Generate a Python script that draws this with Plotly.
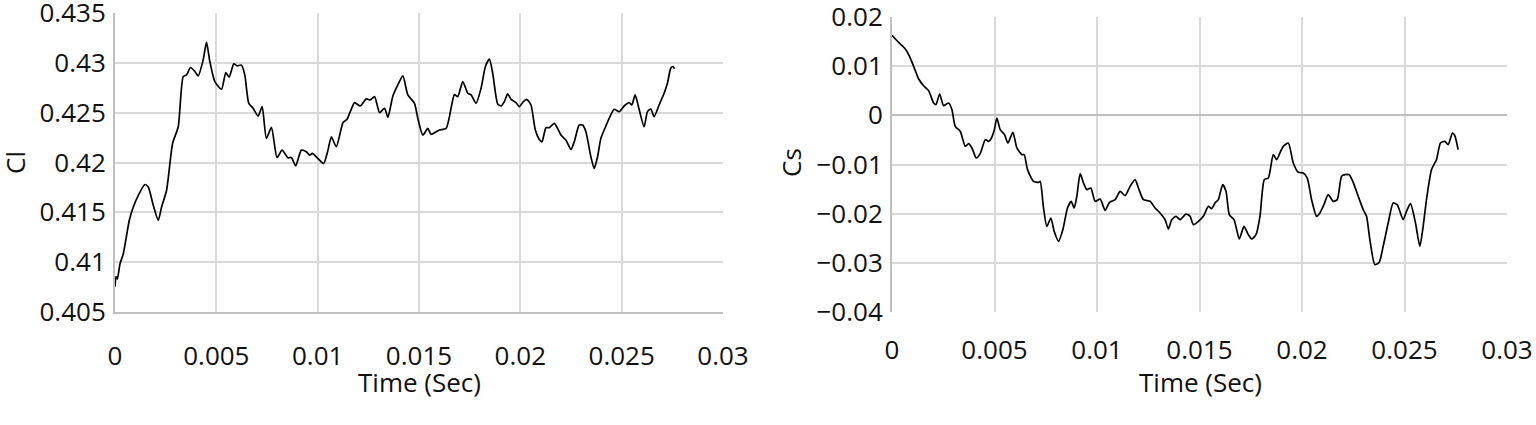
import plotly.graph_objects as go
from plotly.subplots import make_subplots

# ---- data ----
time_cl = [0.0, 0.00005, 0.000115, 0.000246, 0.00041, 0.000706, 0.000903, 0.00115, 0.001478, 0.001642,
           0.001888, 0.002135, 0.002299, 0.002545, 0.002841, 0.00312, 0.003366, 0.00353, 0.003727, 0.003941,
           0.004105, 0.004351, 0.004516, 0.00468, 0.004926, 0.005255, 0.005468, 0.005632, 0.005862, 0.006026,
           0.00624, 0.006404, 0.006601, 0.006814, 0.007061, 0.007258, 0.007471, 0.007718, 0.007997, 0.008243,
           0.008539, 0.008703, 0.008916, 0.009195, 0.009442, 0.009606, 0.009737, 0.010016, 0.010296, 0.010509,
           0.010673, 0.01092, 0.011248, 0.011445, 0.011609, 0.011823, 0.012102, 0.012397, 0.012594, 0.012808,
           0.013054, 0.0133, 0.013465, 0.013711, 0.013957, 0.014204, 0.01445, 0.014778, 0.014943, 0.015189,
           0.015435, 0.0156, 0.015846, 0.01601, 0.016338, 0.016502, 0.016749, 0.016913, 0.017159, 0.017406,
           0.01757, 0.017816, 0.018062, 0.018276, 0.018473, 0.018637, 0.018883, 0.019048, 0.019212, 0.019376,
           0.01954, 0.019787, 0.019951, 0.020148, 0.020312, 0.020525, 0.020739, 0.020936, 0.021067, 0.021264,
           0.021429, 0.021675, 0.021839, 0.022003, 0.02225, 0.022496, 0.02266, 0.022906, 0.023071, 0.023235,
           0.023481, 0.023645, 0.02381, 0.023974, 0.02422, 0.024384, 0.024631, 0.024877, 0.025123, 0.025369,
           0.025501, 0.025665, 0.025829, 0.026108, 0.026273, 0.026437, 0.026601, 0.026847, 0.027094, 0.027258,
           0.027422, 0.027537, 0.027603]
cl = [0.40755, 0.40856, 0.40832, 0.40983, 0.41084, 0.41420, 0.41554, 0.41671, 0.41779, 0.41755,
      0.41571, 0.41420, 0.41554, 0.41722, 0.42191, 0.42359, 0.42862, 0.42879, 0.42953, 0.42913,
      0.42869, 0.43030, 0.43205, 0.43013, 0.42812, 0.42735, 0.42903, 0.42856, 0.42990, 0.42970,
      0.42977, 0.42879, 0.42594, 0.42544, 0.42466, 0.42560, 0.42242, 0.42352, 0.42050, 0.42124,
      0.42047, 0.42050, 0.41966, 0.42124, 0.42107, 0.42074, 0.42091, 0.42040, 0.41990, 0.42124,
      0.42258, 0.42158, 0.42399, 0.42433, 0.42510, 0.42601, 0.42567, 0.42638, 0.42628, 0.42661,
      0.42500, 0.42544, 0.42453, 0.42668, 0.42779, 0.42869, 0.42678, 0.42594, 0.42443, 0.42275,
      0.42342, 0.42282, 0.42309, 0.42326, 0.42342, 0.42460, 0.42681, 0.42661, 0.42812, 0.42695,
      0.42678, 0.42594, 0.42745, 0.42963, 0.43037, 0.42896, 0.42587, 0.42567, 0.42611, 0.42688,
      0.42634, 0.42601, 0.42560, 0.42611, 0.42634, 0.42577, 0.42326, 0.42232, 0.42208, 0.42349,
      0.42349, 0.42393, 0.42342, 0.42275, 0.42225, 0.42131, 0.42208, 0.42376, 0.42376, 0.42309,
      0.42057, 0.41940, 0.42057, 0.42242, 0.42366, 0.42443, 0.42534, 0.42510, 0.42567, 0.42601,
      0.42577, 0.42678, 0.42560, 0.42359, 0.42510, 0.42537, 0.42460, 0.42577, 0.42695, 0.42795,
      0.42946, 0.42963, 0.42940]

time_cs = [0.0, 0.000162, 0.000406, 0.00065, 0.000812, 0.001056, 0.0013, 0.001543, 0.001787, 0.002031,
           0.002144, 0.002323, 0.002518, 0.002762, 0.002924, 0.003086, 0.00333, 0.003574, 0.003736, 0.003899,
           0.00411, 0.004305, 0.004548, 0.004711, 0.004825, 0.004987, 0.005117, 0.005279, 0.005491, 0.005653,
           0.005897, 0.006092, 0.006335, 0.006449, 0.006611, 0.006904, 0.007148, 0.007229, 0.007391, 0.007554,
           0.007749, 0.007911, 0.008122, 0.008333, 0.008561, 0.008739, 0.008886, 0.009016, 0.009178, 0.009341,
           0.009503, 0.009698, 0.009909, 0.010153, 0.010396, 0.010608, 0.010884, 0.011127, 0.011371, 0.011615,
           0.011858, 0.012021, 0.012264, 0.012589, 0.012833, 0.013077, 0.01332, 0.013483, 0.013645, 0.013856,
           0.014051, 0.014344, 0.014539, 0.014701, 0.014945, 0.015188, 0.015432, 0.015595, 0.015757, 0.015919,
           0.01613, 0.016293, 0.016455, 0.016683, 0.016943, 0.01717, 0.017381, 0.017544, 0.017755, 0.01795,
           0.018161, 0.018356, 0.0186, 0.018762, 0.018957, 0.019087, 0.019331, 0.019574, 0.019818, 0.020062,
           0.020257, 0.020468, 0.020712, 0.020874, 0.021069, 0.02128, 0.021524, 0.021719, 0.02193, 0.022092,
           0.022303, 0.022498, 0.022742, 0.022986, 0.023148, 0.02331, 0.023554, 0.023765, 0.02396, 0.024204,
           0.024448, 0.024643, 0.024935, 0.025097, 0.025292, 0.025536, 0.025747, 0.02591, 0.026072, 0.026316,
           0.02656, 0.026755, 0.026966, 0.027128, 0.027339, 0.027453, 0.027615]
cs = [0.01627, 0.01553, 0.01451, 0.01349, 0.01234, 0.00997, 0.00739, 0.00603, 0.00502, 0.00251,
      0.00217, 0.00434, 0.00197, 0.00251, 0.00115, -0.00224, -0.00325, -0.00631, -0.00576, -0.00664,
      -0.00868, -0.0078, -0.00495, -0.00529, -0.00481, -0.00305, -0.00054, -0.00292, -0.00393, -0.00563,
      -0.00346, -0.00664, -0.008, -0.008, -0.01105, -0.01342, -0.01363, -0.01342, -0.01885, -0.02258,
      -0.02088, -0.02359, -0.02563, -0.02325, -0.01885, -0.01749, -0.01885, -0.01647, -0.01186, -0.01376,
      -0.01512, -0.01478, -0.01749, -0.01702, -0.01932, -0.01769, -0.01715, -0.01546, -0.01634, -0.01444,
      -0.01308, -0.01478, -0.01715, -0.01749, -0.01885, -0.01986, -0.02122, -0.02312, -0.02122, -0.02054,
      -0.02122, -0.02007, -0.02054, -0.02224, -0.02156, -0.02054, -0.01851, -0.01898, -0.01783, -0.01715,
      -0.0141, -0.01546, -0.0202, -0.02122, -0.02515, -0.02258, -0.02427, -0.02515, -0.02427, -0.02054,
      -0.01308, -0.01275, -0.008, -0.00902, -0.00732, -0.00631, -0.00563, -0.00969, -0.01159, -0.01173,
      -0.01275, -0.01715, -0.02054, -0.01986, -0.01817, -0.01614, -0.01749, -0.01715, -0.01241, -0.01207,
      -0.01207, -0.01363, -0.01647, -0.01919, -0.02054, -0.02529, -0.03037, -0.0299, -0.02664, -0.0219,
      -0.01783, -0.01817, -0.02122, -0.01953, -0.01797, -0.0219, -0.02664, -0.02258, -0.01715, -0.01105,
      -0.00902, -0.00563, -0.00529, -0.00597, -0.00359, -0.00414, -0.00698]

x_ticks = [0, 0.005, 0.01, 0.015, 0.02, 0.025, 0.03]
cl_ticks = [0.405, 0.41, 0.415, 0.42, 0.425, 0.43, 0.435]
cs_ticks = [-0.04, -0.03, -0.02, -0.01, 0, 0.01, 0.02]

W, H = 1536, 425
FONT = "Open Sans"
TXT = "#111111"
GRID = "#d9d9d9"
AXIS = "#bfbfbf"
FS = 26

fig = make_subplots(rows=1, cols=2)
fig.add_trace(go.Scatter(x=time_cl, y=cl, mode="lines",
                         line=dict(color="black", width=1.7, shape="spline", smoothing=0.6),
                         showlegend=False), row=1, col=1)
fig.add_trace(go.Scatter(x=time_cs, y=cs, mode="lines",
                         line=dict(color="black", width=1.7, shape="spline", smoothing=0.6),
                         showlegend=False), row=1, col=2)

axis_common = dict(showgrid=True, gridcolor=GRID, gridwidth=1.5, zeroline=False, automargin=False,
                   ticks="", ticklabeloverflow="allow",
                   tickfont=dict(family=FONT, size=FS, color=TXT))

fig.update_xaxes(range=[0, 0.03], tickvals=x_ticks, ticktext=[f"{v:g}" for v in x_ticks],
                 showline=True, linecolor=AXIS, linewidth=2, ticklabelstandoff=20, **axis_common)
fig.update_xaxes(domain=[115 / W, 723 / W], row=1, col=1)
fig.update_xaxes(domain=[892 / W, 1507 / W], row=1, col=2, showline=False)

fig.update_yaxes(range=[0.405, 0.435], tickvals=cl_ticks, ticktext=[f"{v:g}" for v in cl_ticks],
                 showline=True, linecolor=AXIS, linewidth=2, domain=[1 - 312 / H, 1 - 13 / H],
                 ticklabelstandoff=2, row=1, col=1, **axis_common)
fig.update_yaxes(range=[-0.04, 0.02], tickvals=cs_ticks,
                 ticktext=[f"{v:g}".replace("-", "\u2212") for v in cs_ticks],
                 showline=True, linecolor=AXIS, linewidth=2, domain=[1 - 312 / H, 1 - 17 / H],
                 ticklabelstandoff=2, row=1, col=2, **axis_common)

# right panel: darker zero line
fig.update_yaxes(zeroline=True, zerolinecolor=AXIS, zerolinewidth=2, row=1, col=2)

def label(text, px, py, angle=0):
    return dict(text=text, x=px / W, y=1 - py / H, xref="paper", yref="paper",
                xanchor="center", yanchor="middle", textangle=angle, showarrow=False,
                font=dict(family=FONT, size=FS, color=TXT))

fig.update_layout(
    width=W, height=H,
    margin=dict(l=0, r=0, t=0, b=0),
    paper_bgcolor="white", plot_bgcolor="white",
    font=dict(family=FONT, color=TXT),
    annotations=[
        label("Cl", 15, 163, -90),
        label("Cs", 791, 163, -90),
        label("Time (Sec)", 419, 382),
        label("Time (Sec)", 1200, 382),
    ],
)

fig.write_html("out.html", config={"displayModeBar": False},
               post_script="document.body.style.margin='0';document.body.style.overflow='hidden';")
